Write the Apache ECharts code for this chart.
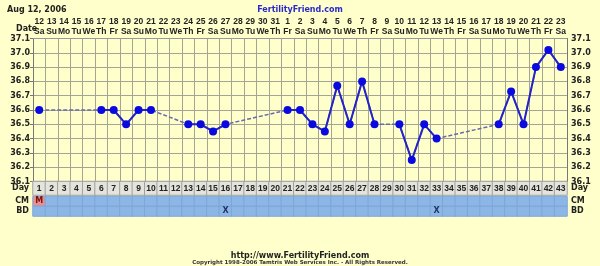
<!DOCTYPE html>
<html><head><meta charset="utf-8">
<script src="https://cdn.jsdelivr.net/npm/echarts@6/dist/echarts.min.js"></script>
<style>html,body{margin:0;padding:0;background:#ffffcc;}#c{width:600px;height:266px;}</style>
</head><body><div id="c"></div>
<script>
const days = ['1','2','3','4','5','6','7','8','9','10','11','12','13','14','15','16','17','18','19','20','21','22','23','24','25','26','27','28','29','30','31','32','33','34','35','36','37','38','39','40','41','42','43'];
const dates = ['12','13','14','15','16','17','18','19','20','21','22','23','24','25','26','27','28','29','30','31','1','2','3','4','5','6','7','8','9','10','11','12','13','14','15','16','17','18','19','20','21','22','23'];
const weekdays = ['Sa','Su','Mo','Tu','We','Th','Fr','Sa','Su','Mo','Tu','We','Th','Fr','Sa','Su','Mo','Tu','We','Th','Fr','Sa','Su','Mo','Tu','We','Th','Fr','Sa','Su','Mo','Tu','We','Th','Fr','Sa','Su','Mo','Tu','We','Th','Fr','Sa'];
const temps = [36.6,null,null,null,null,36.6,36.6,36.5,36.6,36.6,null,null,36.5,36.5,36.45,36.5,null,null,null,null,36.6,36.6,36.5,36.45,36.77,36.5,36.8,36.5,null,36.5,36.25,36.5,36.4,null,null,null,null,36.5,36.73,36.5,36.9,37.02,36.9];
const cm = ['M','','','','','','','','','','','','','','','','','','','','','','','','','','','','','','','','','','','','','','','','','',''];
const bd = ['','','','','','','','','','','','','','','','X','','','','','','','','','','','','','','','','','X','','','','','','','','','',''];
const yTicks = ['36.1','36.2','36.3','36.4','36.5','36.6','36.7','36.8','36.9','37.0','37.1'];

const FONT = 'DejaVu Sans';
const NARROW = 'Liberation Sans';
const lbl = {fontFamily: FONT, fontWeight: 'bold', fontSize: 8, color: '#222'};
const lblN = {fontFamily: NARROW, fontWeight: 'bold', fontSize: 8.5, color: '#222'};
const L = 33, W = 534;

function rowAxes(gi, name){
  return {
    x: {type:'category', gridIndex:gi, data:days, boundaryGap:true,
        axisLine:{show:false}, axisTick:{show:false}, axisLabel:{show:false}, splitLine:{show:false}},
    y: [{type:'category', gridIndex:gi, data:[name], position:'left', axisLine:{show:false}, axisTick:{show:false},
         axisLabel:Object.assign({margin:4}, lbl)},
        {type:'category', gridIndex:gi, data:[name], position:'right', axisLine:{show:false}, axisTick:{show:false},
         axisLabel:Object.assign({margin:4}, lbl)}]
  };
}
const rDay = rowAxes(1,'Day'), rCM = rowAxes(2,'CM'), rBD = rowAxes(3,'BD');

function rowData(texts, colorFn){
  return texts.map((t,i)=>({value:[i,0,1], itemStyle:{color:colorFn(t,i)}}));
}

const option = {
  backgroundColor:'#ffffcc',
  animation:false,
  title:[
    {text:'Aug 12, 2006', left:2, top:1, textStyle:{fontFamily:FONT, fontWeight:'bold', fontSize:8, color:'#222'}},
    {text:'FertilityFriend.com', left:'center', top:1, textStyle:{fontFamily:FONT, fontWeight:'bold', fontSize:8, color:'#2a2acc'}},
    {text:'Date', left:11, top:20, textStyle:{fontFamily:FONT, fontWeight:'bold', fontSize:8, color:'#222'}},
    {text:'http://www.FertilityFriend.com', left:'center', top:247, textStyle:{fontFamily:FONT, fontWeight:'bold', fontSize:8, color:'#222'}},
    {text:'Copyright 1998-2006 Tamtris Web Services Inc. - All Rights Reserved.', left:'center', top:255, textStyle:{fontFamily:FONT, fontSize:5.5, color:'#333'}}
  ],
  grid:[
    {left:L, width:W, top:38.5, height:143},
    {left:L, width:W, top:181.5, height:13.5},
    {left:L, width:W, top:196.5, height:9.5},
    {left:L, width:W, top:206.5, height:9.5}
  ],
  xAxis:[
    {type:'category', gridIndex:0, data:days, boundaryGap:true, position:'bottom',
     axisLine:{show:true, lineStyle:{color:'#777'}}, axisTick:{show:false}, axisLabel:{show:false},
     splitLine:{show:true, interval:0, lineStyle:{color:'#a4a494', width:1}}},
    {type:'category', gridIndex:0, data:dates, boundaryGap:true, position:'top',
     axisLine:{show:true, lineStyle:{color:'#999'}}, axisTick:{show:false},
     axisLabel:Object.assign({interval:0, margin:2, lineHeight:10,
       formatter:(v,i)=>dates[i]+'\n'+weekdays[i]}, lblN)},
    rDay.x, rCM.x, rBD.x
  ],
  yAxis:[
    {type:'value', gridIndex:0, min:36.1, max:37.1, interval:0.1, position:'left',
     axisLine:{show:true, lineStyle:{color:'#777'}}, axisTick:{show:true, length:3, lineStyle:{color:'#777'}},
     axisLabel:Object.assign({margin:3, formatter:(v)=>yTicks[Math.round((v-36.1)*10)]}, lbl),
     splitLine:{show:true, lineStyle:{color:'#a4a494', width:1}}},
    {type:'value', gridIndex:0, min:36.1, max:37.1, interval:0.1, position:'right',
     axisLine:{show:true, lineStyle:{color:'#777'}}, axisTick:{show:false},
     axisLabel:Object.assign({margin:4, formatter:(v)=>yTicks[Math.round((v-36.1)*10)]}, lbl),
     splitLine:{show:false}},
    rDay.y[0], rDay.y[1], rCM.y[0], rCM.y[1], rBD.y[0], rBD.y[1]
  ],
  series:[
    {type:'line', xAxisIndex:0, yAxisIndex:0, data:temps, connectNulls:true, symbol:'none', z:2,
     lineStyle:{color:'#6a6aa8', width:1.5, type:[4,2]}},
    {type:'line', xAxisIndex:0, yAxisIndex:0, data:temps, connectNulls:false, symbol:'circle', symbolSize:8, z:3,
     lineStyle:{color:'#2323c8', width:2}, itemStyle:{color:'#0a0ae0'}},
    {type:'heatmap', xAxisIndex:2, yAxisIndex:2, data:rowData(days, ()=> '#e4e4dc'),
     itemStyle:{borderColor:'#a0a0a0', borderWidth:1},
     label:Object.assign({show:true, formatter:(p)=>days[p.dataIndex]}, lblN)},
    {type:'heatmap', xAxisIndex:3, yAxisIndex:4, data:rowData(cm, (t)=> t==='M' ? '#e88f8f' : '#8cb6e6'),
     itemStyle:{borderColor:'#7ea6d8', borderWidth:1},
     label:Object.assign({show:true, formatter:(p)=>cm[p.dataIndex]}, lbl, {color:'#7a1010'})},
    {type:'heatmap', xAxisIndex:4, yAxisIndex:6, data:rowData(bd, ()=> '#8cb6e6'),
     itemStyle:{borderColor:'#7ea6d8', borderWidth:1},
     label:Object.assign({show:true, formatter:(p)=>bd[p.dataIndex]}, lbl, {color:'#223366'})}
  ]
};
echarts.init(document.getElementById('c'), null, {renderer:'canvas'}).setOption(option);
</script></body></html>
